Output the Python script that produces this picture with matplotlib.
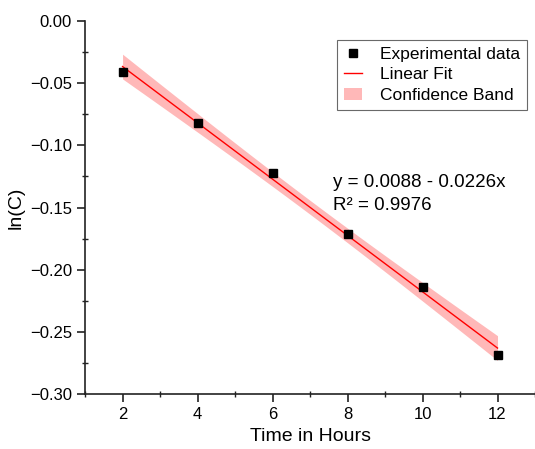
import matplotlib

matplotlib.use("Agg")
import matplotlib.pyplot as plt
import numpy as np
from matplotlib.ticker import MultipleLocator

plt.rcParams["font.family"] = ["Liberation Sans", "DejaVu Sans"]

# experimental data
hours = np.array([2, 4, 6, 8, 10, 12], dtype=float)
ln_c = np.array([-0.041, -0.082, -0.122, -0.171, -0.214, -0.269])

fit_label = "y = 0.0088 - 0.0226x"
r2_label = "R\u00b2 = 0.9976"
T_975_DOF4 = 2.776  # two-sided 95% t value for n-2 = 4

# linear fit with 95% confidence band
slope, intercept = np.polyfit(hours, ln_c, 1)
x_fit = np.linspace(hours.min(), hours.max(), 100)
y_fit = intercept + slope * x_fit
resid = ln_c - (intercept + slope * hours)
n = hours.size
s = np.sqrt(np.sum(resid**2) / (n - 2))
sxx = np.sum((hours - hours.mean()) ** 2)
half = T_975_DOF4 * s * np.sqrt(1.0 / n + (x_fit - hours.mean()) ** 2 / sxx)

fig = plt.figure(figsize=(5.35, 4.49), dpi=100)
ax = fig.add_axes([0.159, 0.1225, 0.841, 0.8307])

ax.fill_between(x_fit, y_fit - half, y_fit + half, color="#ffb8b8", linewidth=0,
                label="Confidence Band", zorder=1)
ax.plot(x_fit, y_fit, color="red", linewidth=1.0, label="Linear Fit", zorder=2)
ax.plot(hours, ln_c, "s", color="black", markersize=6, label="Experimental data", zorder=3)

ax.set_xlim(1, 13)
ax.set_ylim(-0.30, 0.00)
ax.xaxis.set_major_locator(MultipleLocator(2))
ax.xaxis.set_minor_locator(MultipleLocator(1))
ax.yaxis.set_major_locator(MultipleLocator(0.05))
ax.yaxis.set_minor_locator(MultipleLocator(0.025))
ax.yaxis.set_major_formatter(plt.FuncFormatter(lambda v, p: f"{v:.2f}".replace("-", "\u2212")))

for side in ("top", "right"):
    ax.spines[side].set_visible(False)
for side in ("left", "bottom"):
    ax.spines[side].set_linewidth(1.2)
    ax.spines[side].set_color("#222222")
ax.tick_params(which="major", direction="out", length=6, width=1.2, labelsize=12, color="#222222")
ax.tick_params(which="minor", direction="inout", length=4.5, width=1.0, color="#222222")

ax.set_xlabel("Time in Hours", fontsize=14)
ax.set_ylabel("ln(C)", fontsize=14)

fig.text(333 / 535, 1 - 187 / 449, fit_label, fontsize=13.5, va="baseline")
fig.text(333 / 535, 1 - 210 / 449, r2_label, fontsize=13.5, va="baseline")

handles, labels = ax.get_legend_handles_labels()
order = [2, 1, 0]
leg = ax.legend([handles[i] for i in order], [labels[i] for i in order],
                loc="upper right", bbox_to_anchor=(0.982, 0.949), borderaxespad=0,
                fontsize=12.5, frameon=True, fancybox=False, edgecolor="#444444",
                handlelength=1.0, handletextpad=1.05, borderpad=0.4, labelspacing=0.3)
leg.get_frame().set_linewidth(0.8)

fig.savefig("out.png", dpi=100)
